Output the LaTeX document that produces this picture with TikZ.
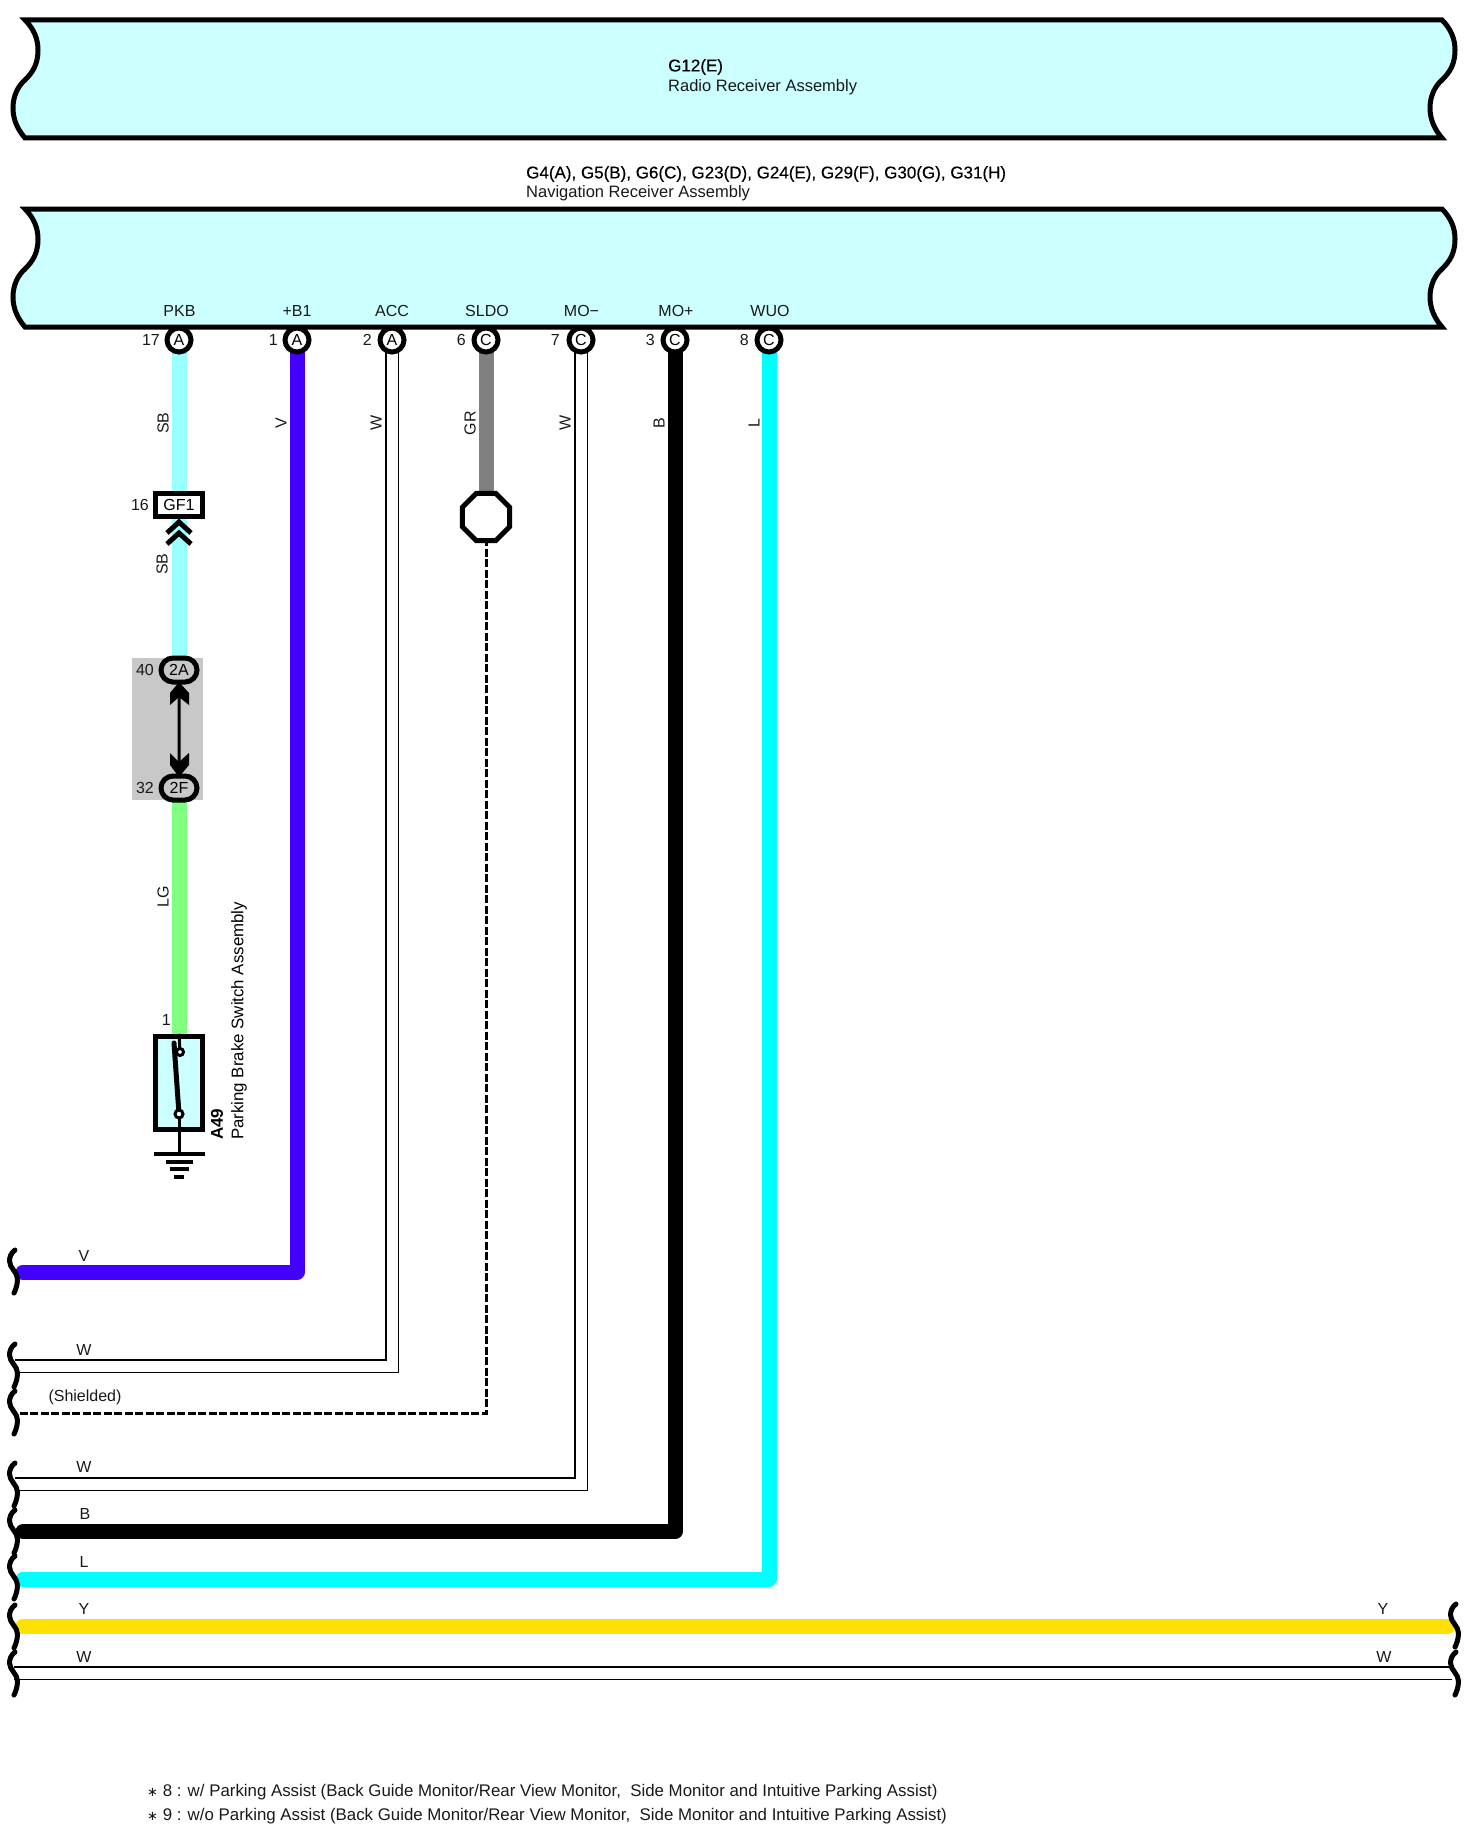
\documentclass[tikz,border=0pt]{standalone}
\usepackage{fontspec}
\setmainfont{Liberation Sans}
\newfontfamily\dvfont{DejaVu Sans}
\newfontfamily\fakeb[FakeBold=0.4]{Liberation Sans}
\usetikzlibrary{backgrounds,shapes.misc,shapes.geometric}
\definecolor{boxc}{HTML}{CCFFFF}
\definecolor{cSB}{HTML}{99FFFF}
\definecolor{cV}{HTML}{4400FF}
\definecolor{cGR}{HTML}{808080}
\definecolor{cL}{HTML}{00FFFF}
\definecolor{cLG}{HTML}{80FF80}
\definecolor{cY}{HTML}{FFE000}
\definecolor{cGrey}{HTML}{C8C8C8}
\tikzset{
  txt/.style={font=\fontsize{16}{16}\selectfont,inner sep=0pt,text=black!90},
  txtl/.style={font=\fontsize{16.5}{16}\selectfont,inner sep=0pt,text=black!90},
  txtt/.style={font=\fontsize{17}{17}\fakeb\selectfont,inner sep=0pt,text=black},
  txtn/.style={font=\fontsize{16.85}{17}\selectfont,inner sep=0pt,text=black!90},
  txtv/.style={txt,rotate=90},
  pinc/.style={circle,draw,line width=5pt,fill=white,minimum size=24pt,inner sep=0pt,font=\fontsize{16}{16}\selectfont},
  oval/.style={rounded rectangle,draw,line width=5pt,fill=cGrey,minimum width=36pt,minimum height=24pt,inner sep=0pt,font=\fontsize{16}{16}\selectfont},
  wire/.style={line width=15pt,line join=round},
  wirew/.style={double=white,double distance=11pt,line width=1.6pt,line join=miter},
  wavy/.style={line width=5pt,line cap=round},
  thickl/.style={line width=5pt},
}
\newcommand{\wavebox}[1]{%
  \path[draw=black,fill=boxc,line width=5pt,line join=miter,shift={(0,#1)}]
    (25,0) .. controls (34,9) and (38,19) .. (38,30)
    .. controls (38,44) and (33,52) .. (25,60)
    .. controls (18,66) and (13,76) .. (13,88)
    .. controls (13,100) and (18,110) .. (25,118)
    -- (1442,118)
    .. controls (1435,110) and (1430,100) .. (1430,88)
    .. controls (1430,76) and (1435,66) .. (1442,60)
    .. controls (1450,52) and (1455,44) .. (1455,30)
    .. controls (1455,19) and (1451,9) .. (1442,0) -- cycle;}
\newcommand{\lwave}[2][0]{%
  \draw[wavy,shift={(#1,#2)}] (15,0) .. controls (11,3) and (9.5,7) .. (9.5,11)
    .. controls (9.5,18) and (17.5,22) .. (17.5,29)
    .. controls (17.5,35) and (15.5,40) .. (14,43);}
\begin{document}
\begin{tikzpicture}[x=1pt,y=-1pt]
\useasboundingbox (0,0) rectangle (1476,1830);
% pins
\foreach \n/\x/\l in {pa/179/A,pb/297/A,pc/392/A,pd/486/C,pe/581/C,pf/675/C,pg/769/C}
  \node[pinc] (\n) at (\x,340) {\l};
% pin names
\node[txt] (na) at (179.5,311) {PKB};
\node[txt] (nb) at (297,311) {+B1};
\node[txt] (nc) at (392,311) {ACC};
\node[txt] (nd) at (487,311) {SLDO};
\node[txt] (ne) at (581.5,311) {MO−};
\node[txt] (nf) at (676,311) {MO+};
\node[txt] (ng) at (770,311) {WUO};
% pin numbers
\node[txt,anchor=east] (ia) at (160,340) {17};
\node[txt,anchor=east] (ib) at (278,340) {1};
\node[txt,anchor=east] (ic) at (372,340) {2};
\node[txt,anchor=east] (id) at (466,340) {6};
\node[txt,anchor=east] (ie) at (560,340) {7};
\node[txt,anchor=east] (if) at (655,340) {3};
\node[txt,anchor=east] (ig) at (749,340) {8};
% titles
\node[txtt,anchor=west] (t1) at (668,67) {G12(E)};
\node[txtl,anchor=west] (t2) at (668,87) {Radio Receiver Assembly};
\node[txtt,anchor=west] (t3) at (526,174) {G4(A), G5(B), G6(C), G23(D), G24(E), G29(F), G30(G), G31(H)};
\node[txtl,anchor=west] (t4) at (526,193) {Navigation Receiver Assembly};
% connectors
\node[draw,line width=5pt,fill=white,minimum width=47pt,minimum height=23pt,inner sep=0pt,font=\fontsize{16}{16}\selectfont] (gf) at (179,505) {GF1};
\node[txt,anchor=east] (i16) at (149,505) {16};
\node[oval] (c2a) at (179,670) {2A};
\node[oval] (c2f) at (179,788) {2F};
\node[txt,anchor=east] (i40) at (154,670) {40};
\node[txt,anchor=east] (i32) at (154,788) {32};
% shield
\node[regular polygon,regular polygon sides=8,draw,line width=5pt,fill=white,minimum size=51pt,inner sep=0pt] (oct) at (486,517) {};
% switch
\node[draw,line width=5pt,fill=boxc,minimum width=47pt,minimum height=93pt,inner sep=0pt] (sw) at (179,1083) {};
\node[txt,anchor=east] (i1) at (171,1020) {1};
\node[anchor=west,rotate=90,inner sep=0pt,font=\fontsize{17}{17}\selectfont\bfseries] (a49) at (217,1140) {A49};
\node[anchor=west,rotate=90,inner sep=0pt,font=\fontsize{16.85}{17}\selectfont] (pbs) at (239,1140) {Parking Brake Switch Assembly};
% wire labels
\foreach \n/\x/\y/\l in {la/163/423/SB,lb/281/423/V,lc/376/423/W,ld/470/423/GR,le/565/423/W,lf/659/423/B,lg/754/423/L,lh/162/564/SB,li/163/897/LG}
  \node[txtv] (\n) at (\x,\y) {\l};
\foreach \n/\x/\y/\l in {ha/84/1256/V,hb/84/1350/W,hd/84/1467/W,he/85/1514/B,hf/84/1562/L,hg/84/1609/Y,hh/84/1657/W,hi/1383/1609/Y,hj/1384/1657/W}
  \node[txt] (\n) at (\x,\y) {\l};
\node[txt] (hc) at (85,1397) {(Shielded)};
% notes
\node[txtn,anchor=west] (f1) at (147,1792) {{\dvfont\fontsize{13}{13}\selectfont ∗} 8 : w/ Parking Assist (Back Guide Monitor/Rear View Monitor,\ \ Side Monitor and Intuitive Parking Assist)};
\node[txtn,anchor=west] (f2) at (147,1816) {{\dvfont\fontsize{13}{13}\selectfont ∗} 9 : w/o Parking Assist (Back Guide Monitor/Rear View Monitor,\ \ Side Monitor and Intuitive Parking Assist)};
% free ends
\coordinate (eb) at (23,1272);
\coordinate (ec1) at (15,1366);
\coordinate (ed) at (15,1413);
\coordinate (ee1) at (15,1484);
\coordinate (ef) at (23,1531.5);
\coordinate (eg) at (23,1579);
\coordinate (ey1) at (23,1626);
\coordinate (ey2) at (1448,1626);
\coordinate (ew1) at (14,1673);
\coordinate (ew2) at (1452,1673);
\begin{pgfonlayer}{background}
  \wavebox{20}
  \wavebox{209}
  \fill[cGrey] (132,658) rectangle (203,800);
  \draw[wire,cSB] (pa.center) -- (gf.center);
  \draw[wire,cSB] (gf.center) -- (c2a.center);
  \draw[wire,cLG] (c2f.center) -- (sw.center);
  \draw[wire,cV,line cap=round] (pb.center) |- (eb);
  \draw[wirew] (pc.center) |- (ec1);
  \draw[wire,cGR] (pd.center) -- (oct.center);
  \draw[wirew] (pe.center) |- (ee1);
  \draw[wire,black,line cap=round] (pf.center) |- (ef);
  \draw[wire,cL,line cap=round] (pg.center) |- (eg);
  \draw[wire,cY,line cap=round] (ey1) -- (ey2);
  \draw[wirew] (ew1) -- (ew2);
  \draw[line width=3pt,dash pattern=on 8pt off 2.5pt] (oct.center) |- (ed);
\end{pgfonlayer}
% double arrow between 2A / 2F
\draw[line width=3pt] (c2a) -- (c2f);
\fill (179,682) -- (170,693) -- (170,705) -- (179,697) -- (189,705) -- (189,693) -- cycle;
\fill (179,777) -- (170,765) -- (170,753) -- (179,762) -- (189,753) -- (189,765) -- cycle;
% chevrons
\draw[thickl] (167,533) -- (179,522) -- (191,533);
\draw[thickl] (167,544) -- (179,533) -- (191,544);
% switch detail
\coordinate (s1) at (180,1052);
\coordinate (s2) at (179,1114);
\coordinate (g0) at (179,1154);
\draw[line width=3pt] (sw.north) -- (s1);
\draw[line width=3pt] (s2) -- (g0);
\draw[line width=5pt,line cap=round] (174,1043) -- (s2);
\draw[line width=3pt,fill=white] (s1) circle (3.5pt);
\draw[line width=3pt,fill=white] (s2) circle (4pt);
\draw[line width=3.6pt] (154,1154) -- (205,1154);
\draw[line width=3.6pt] (166,1162) -- (193,1162);
\draw[line width=3.6pt] (170,1169) -- (189,1169);
\draw[line width=3.6pt] (174,1177) -- (184,1177);
% wavy ends
\foreach \y in {1250,1344,1391,1463,1510,1556,1605,1652} {\lwave{\y}}
\foreach \y in {1604,1652} {\lwave[1441]{\y}}
\end{tikzpicture}
\end{document}
